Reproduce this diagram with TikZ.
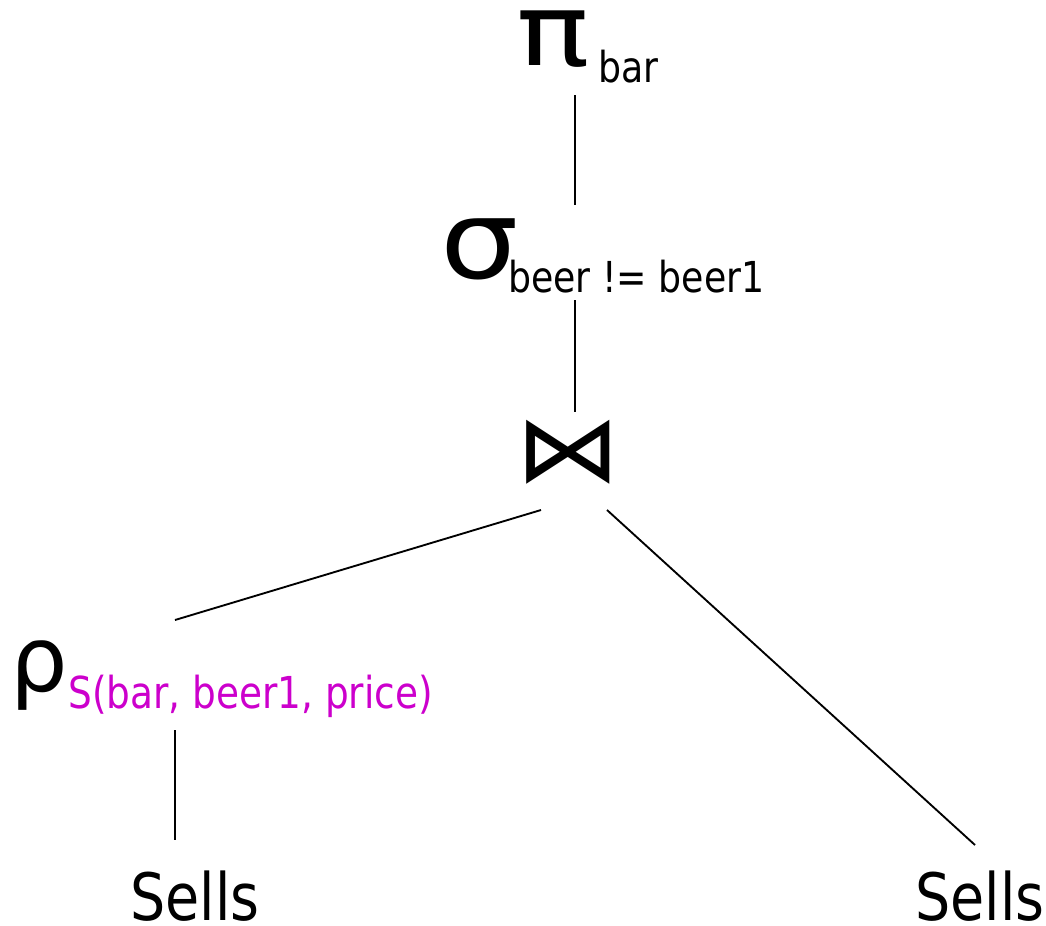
\documentclass[tikz,border=0pt]{standalone}
\usepackage{fontspec}
\setmainfont{DejaVu Sans}[FakeStretch=0.85]
\newfontfamily\greekfont{DejaVu Sans}
\newfontfamily\greekwide{DejaVu Sans}[FakeStretch=1.22]
\newfontfamily\symwide{DejaVu Sans}[FakeStretch=1.13]
\usetikzlibrary{calc}
\definecolor{renamepink}{HTML}{CC00CC}
\tikzset{
  op/.style={inner sep=0pt, anchor=base west},
  sub/.style={inner sep=0pt, anchor=base west, font=\fontsize{32}{32}\selectfont},
  rel/.style={inner sep=0pt, anchor=base west, font=\fontsize{49}{49}\selectfont},
  edge/.style={line width=1.4pt},
}
\begin{document}
\begin{tikzpicture}[x=0.75pt,y=-0.75pt]
  \useasboundingbox (0,0) rectangle (1046,925);
  % projection
  \node[op, font=\greekwide\fontsize{75}{75}\selectfont] (proj) at (516,65) {π};
  \node[sub] (projsub) at (598,82) {bar};
  % selection
  \node[op, font=\symwide\fontsize{82}{82}\selectfont] (sel) at (440,278) {σ};
  \node[sub] (selsub) at (508,292) {beer != beer1};
  % join
  \node[inner sep=0pt, font=\symwide\fontsize{70}{70}\selectfont] (join) at (568,452) {⋈};
  % rename
  \node[op, font=\greekfont\fontsize{68}{68}\selectfont] (ren) at (10,691) {ρ};
  \node[sub, text=renamepink, font=\fontsize{33}{33}\selectfont] (rensub) at (68,708) {S(bar, beer1, price)};
  % relations
  \node[rel] (sellsA) at (130,920) {Sells};
  \node[rel] (sellsB) at (915,920) {Sells};
  % edges
  \draw[edge] ($(proj.base west)+(59,30)$) -- ($(sel.base west)+(135,-73)$);
  \draw[edge] ($(sel.base west)+(135,22)$) -- ($(join.center)+(7,-40)$);
  \draw[edge] ($(join.center)+(-27,58)$) -- ($(ren.base west)+(165,-71)$);
  \draw[edge] ($(join.center)+(39,58)$) -- ($(sellsB.base west)+(60,-75)$);
  \draw[edge] ($(ren.base west)+(165,39)$) -- ($(sellsA.base west)+(45,-80)$);
\end{tikzpicture}
\end{document}
